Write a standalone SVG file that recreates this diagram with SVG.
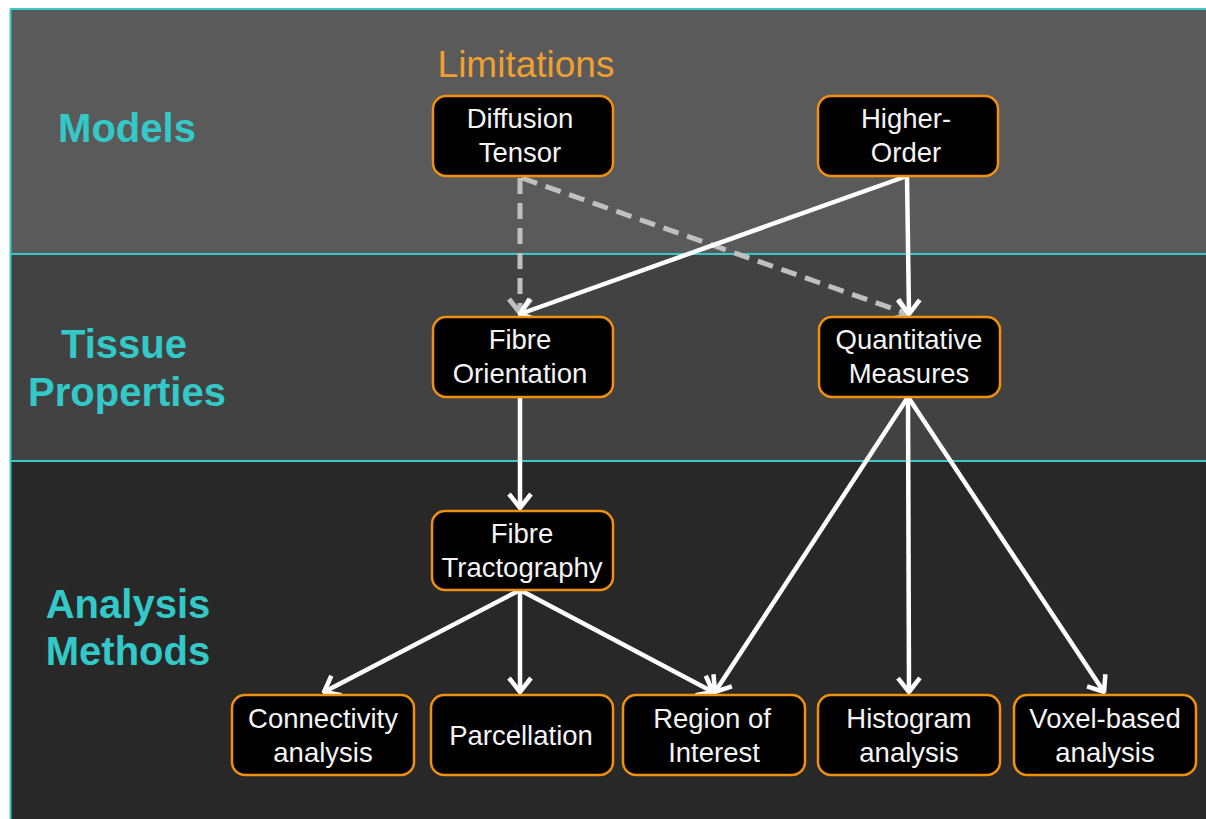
<svg xmlns="http://www.w3.org/2000/svg" width="1206" height="819" viewBox="0 0 1206 819">
<style>
.box{fill:#000;stroke:#f0900c;stroke-width:2.5}
.nt{font-family:"Liberation Sans",Arial,sans-serif;font-size:27.5px;fill:#f4f4f4;text-anchor:middle}
.lt{font-family:"Liberation Sans",Arial,sans-serif;font-size:40px;font-weight:bold;fill:#33c9c9;text-anchor:middle}
.sep{stroke:#3cc6c6;stroke-width:2}
.w{stroke:#fff;stroke-width:4.5;fill:none;marker-end:url(#aw)}
.g{stroke:#c0c0c0;stroke-width:5;fill:none;stroke-dasharray:16 9;marker-end:url(#ag)}
</style>
<defs>
<marker id="aw" markerUnits="userSpaceOnUse" viewBox="-18 -14 20 28" markerWidth="20" markerHeight="28" refX="0" refY="0" orient="auto">
<path d="M-14,-11 L0,0 L-14,11" fill="none" stroke="#fff" stroke-width="4.5"/>
</marker>
<marker id="ag" markerUnits="userSpaceOnUse" viewBox="-18 -14 20 28" markerWidth="20" markerHeight="28" refX="0" refY="0" orient="auto">
<path d="M-14,-11 L0,0 L-14,11" fill="none" stroke="#c0c0c0" stroke-width="5"/>
</marker>
</defs>
<rect x="0" y="0" width="1206" height="819" fill="#fff"/>
<rect x="10" y="9" width="1196" height="245" fill="#5a5a5a"/>
<rect x="10" y="254" width="1196" height="207" fill="#424242"/>
<rect x="10" y="461" width="1196" height="358" fill="#282828"/>
<line class="sep" x1="10" y1="9" x2="1206" y2="9"/>
<line class="sep" x1="10.5" y1="9" x2="10.5" y2="819"/>
<line class="sep" x1="10" y1="254" x2="1206" y2="254"/>
<line class="sep" x1="10" y1="461" x2="1206" y2="461"/>

<g id="labels">
<text class="lt" x="127" y="142">Models</text>
<text class="lt" x="124" y="358">Tissue</text>
<text class="lt" x="127" y="406">Properties</text>
<text class="lt" x="128" y="618">Analysis</text>
<text class="lt" x="128" y="665">Methods</text>
<text x="526" y="77" font-family="'Liberation Sans',Arial,sans-serif" font-size="37" fill="#f0a030" text-anchor="middle">Limitations</text>
</g>

<g id="connectors">
<line class="g" x1="520" y1="178" x2="520" y2="313"/>
<line class="g" x1="522" y1="178" x2="908" y2="314"/>
<line class="w" x1="907" y1="176" x2="520" y2="314"/>
<line class="w" x1="907" y1="176" x2="909" y2="314"/>
<line class="w" x1="520" y1="397" x2="520" y2="508"/>
<line class="w" x1="908" y1="397" x2="715" y2="692"/>
<line class="w" x1="908" y1="397" x2="909" y2="692"/>
<line class="w" x1="908" y1="397" x2="1104" y2="692"/>
<line class="w" x1="520" y1="590" x2="324" y2="692"/>
<line class="w" x1="520" y1="590" x2="520" y2="692"/>
<line class="w" x1="520" y1="590" x2="713" y2="692"/>
</g>

<g id="diffusion-tensor"><rect class="box" x="433" y="96" width="180" height="80" rx="13"/><text class="nt" x="520" y="128">Diffusion</text><text class="nt" x="520" y="162">Tensor</text></g>
<g id="higher-order"><rect class="box" x="818" y="96" width="180" height="80" rx="13"/><text class="nt" x="906" y="128">Higher-</text><text class="nt" x="906" y="162">Order</text></g>
<g id="fibre-orientation"><rect class="box" x="433" y="317" width="180" height="80" rx="13"/><text class="nt" x="520" y="349">Fibre</text><text class="nt" x="520" y="383">Orientation</text></g>
<g id="quantitative-measures"><rect class="box" x="819" y="317" width="181" height="80" rx="13"/><text class="nt" x="909" y="349">Quantitative</text><text class="nt" x="909" y="383">Measures</text></g>
<g id="fibre-tractography"><rect class="box" x="432" y="511" width="181" height="79" rx="13"/><text class="nt" x="522" y="543">Fibre</text><text class="nt" x="522" y="577">Tractography</text></g>
<g id="connectivity-analysis"><rect class="box" x="232" y="695" width="182" height="80" rx="13"/><text class="nt" x="323" y="728">Connectivity</text><text class="nt" x="323" y="762">analysis</text></g>
<g id="parcellation"><rect class="box" x="431" y="695" width="182" height="80" rx="13"/><text class="nt" x="521" y="745">Parcellation</text></g>
<g id="region-of-interest"><rect class="box" x="623" y="695" width="182" height="80" rx="13"/><text class="nt" x="712" y="728">Region  of</text><text class="nt" x="714" y="762">Interest</text></g>
<g id="histogram-analysis"><rect class="box" x="818" y="695" width="182" height="80" rx="13"/><text class="nt" x="909" y="728">Histogram</text><text class="nt" x="909" y="762">analysis</text></g>
<g id="voxel-based-analysis"><rect class="box" x="1014" y="695" width="182" height="80" rx="13"/><text class="nt" x="1105" y="728">Voxel-based</text><text class="nt" x="1105" y="762">analysis</text></g>
</svg>
